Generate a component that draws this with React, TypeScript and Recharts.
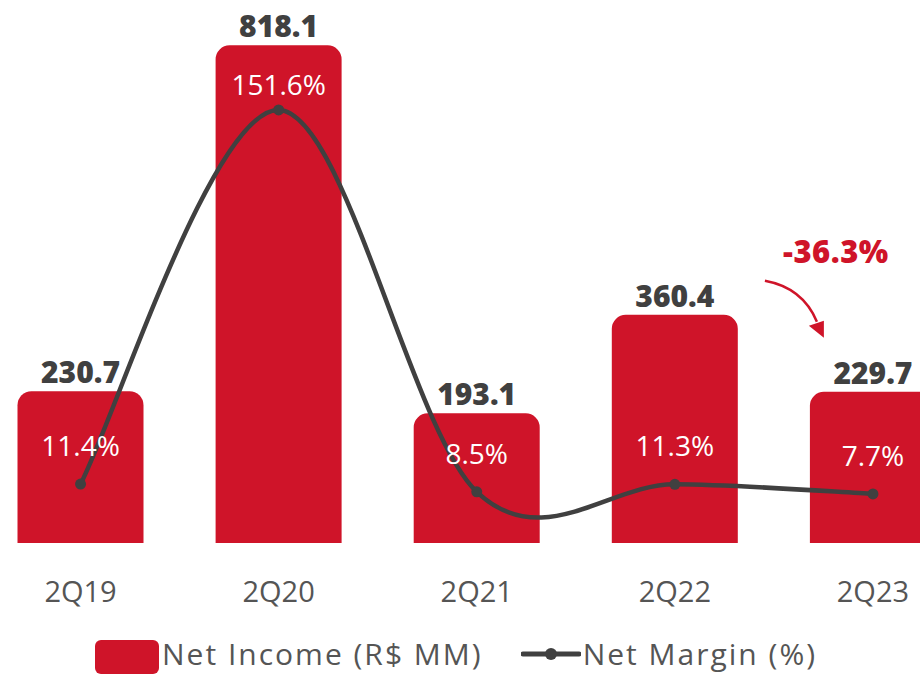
import React from 'react';
import { ComposedChart, Bar, Line, XAxis, YAxis, LabelList } from 'recharts';

const categories = ['2Q19', '2Q20', '2Q21', '2Q22', '2Q23'];
const netIncome = [230.7, 818.1, 193.1, 360.4, 229.7];
const netMargin = [11.4, 151.6, 8.5, 11.3, 7.7];
const changeLabel = '-36.3%';
const incomeName = 'Net Income (R$ MM)';
const marginName = 'Net Margin (%)';

const incomeFloor = -27;
const incomeDomain = [-27, 895];
const marginDomain = [-10.7, 192.8];

const RED = '#CF1429';
const DARK = '#404040';
const GREY = '#555555';
const FONT = "'Open Sans', 'Noto Sans', sans-serif";

const data = categories.map((c, i) => ({ cat: c, income: netIncome[i], margin: netMargin[i] }));

// Catmull-Rom style smoothing (like spreadsheet "smoothed line")
function smoothCurve(context: any) {
  let pts: Array<[number, number]> = [];
  const draw = () => {
    const n = pts.length;
    if (n === 0) return;
    context.moveTo(pts[0][0], pts[0][1]);
    if (n === 1) return;
    for (let i = 0; i < n - 1; i++) {
      const p0 = pts[Math.max(0, i - 1)];
      const p1 = pts[i];
      const p2 = pts[i + 1];
      const p3 = pts[Math.min(n - 1, i + 2)];
      const c1x = p1[0] + (p2[0] - p0[0]) / 6;
      const c1y = p1[1] + (p2[1] - p0[1]) / 6;
      const c2x = p2[0] - (p3[0] - p1[0]) / 6;
      const c2y = p2[1] - (p3[1] - p1[1]) / 6;
      context.bezierCurveTo(c1x, c1y, c2x, c2y, p2[0], p2[1]);
    }
  };
  return {
    areaStart() {},
    areaEnd() {},
    lineStart() { pts = []; },
    lineEnd() { draw(); pts = []; },
    point(x: number, y: number) { pts.push([+x, +y]); },
  };
}

const IncomeLabel = (props: any) => {
  const { x, y, width, index } = props;
  const cx = x + width / 2;
  return (
    <text x={cx} y={y - 8} textAnchor="middle" fill={DARK} fontSize={30} fontWeight={800} fontFamily={FONT}>
      {netIncome[index].toFixed(1)}
    </text>
  );
};

const ChangeAnnotation = (props: any) => {
  const { x, y, width, index } = props;
  if (index !== netIncome.length - 1) return null;
  const cx = x + width / 2;
  const t = y;
  return (
    <g>
      <text x={cx - 37} y={t - 129} textAnchor="middle" fill={RED} fontSize={31} fontWeight={800} fontFamily={FONT} letterSpacing={0.5}>
        {changeLabel}
      </text>
      <path
        d={`M ${cx - 108} ${t - 111} Q ${cx - 70} ${t - 104} ${cx - 56} ${t - 70}`}
        fill="none"
        stroke={RED}
        strokeWidth={2.5}
      />
      <polygon
        points={`${cx - 64},${t - 66} ${cx - 49},${t - 71} ${cx - 49},${t - 54}`}
        fill={RED}
      />
    </g>
  );
};

const MarginLabel = (props: any) => {
  const { x, y, index } = props;
  const baseline = Math.max(y - 28, 95);
  return (
    <text x={x} y={baseline} textAnchor="middle" fill="#ffffff" fontSize={28} fontWeight={400} fontFamily={FONT}>
      {netMargin[index].toFixed(1) + '%'}
    </text>
  );
};

export default function App() {
  return (
    <div style={{ position: 'absolute', left: 0, top: 0, width: 920, height: 675, overflow: 'hidden', background: '#fff', fontFamily: FONT }}>
      <div style={{ position: 'absolute', left: -40, top: 0 }}>
        <ComposedChart
          width={1012}
          height={620}
          data={data}
          margin={{ top: 0, right: 0, bottom: 0, left: 21.5 }}
          barCategoryGap={36}
        >
          <XAxis
            dataKey="cat"
            height={77}
            axisLine={false}
            tickLine={false}
            tickSize={0}
            tickMargin={38}
            tick={{ fill: GREY, fontSize: 29, fontFamily: FONT }}
            interval={0}
          />
          <YAxis yAxisId="left" hide domain={incomeDomain} allowDataOverflow type="number" />
          <YAxis yAxisId="right" hide orientation="right" domain={marginDomain} allowDataOverflow type="number" />
          <Bar
            yAxisId="left"
            dataKey={(d: any) => [incomeFloor, d.income]}
            name={incomeName}
            fill={RED}
            radius={[14, 14, 0, 0]}
            isAnimationActive={false}
          >
            <LabelList content={IncomeLabel} />
            <LabelList content={ChangeAnnotation} />
          </Bar>
          <Line
            yAxisId="right"
            dataKey="margin"
            name={marginName}
            type={smoothCurve as any}
            stroke={DARK}
            strokeWidth={4.5}
            dot={{ r: 5.5, fill: DARK, stroke: DARK, strokeWidth: 0 }}
            activeDot={false}
            isAnimationActive={false}
          >
            <LabelList content={MarginLabel} />
          </Line>
        </ComposedChart>
      </div>
      <div style={{ position: 'absolute', left: 95, top: 637, height: 34, lineHeight: '34px', display: 'flex', alignItems: 'center', color: GREY, fontSize: 30, fontFamily: FONT, whiteSpace: 'nowrap', letterSpacing: 2 }}>
        <div style={{ width: 64, height: 34, background: RED, borderRadius: 6, marginRight: 3, position: 'relative', top: 3 }} />
        <span style={{ lineHeight: '34px' }}>{incomeName}</span>
        <svg width={60} height={34} style={{ marginLeft: 38, marginRight: 2 }}>
          <line x1={2} y1={17} x2={58} y2={17} stroke={DARK} strokeWidth={5} strokeLinecap="round" />
          <circle cx={30} cy={17} r={6} fill={DARK} />
        </svg>
        <span style={{ lineHeight: '34px' }}>{marginName}</span>
      </div>
    </div>
  );
}
